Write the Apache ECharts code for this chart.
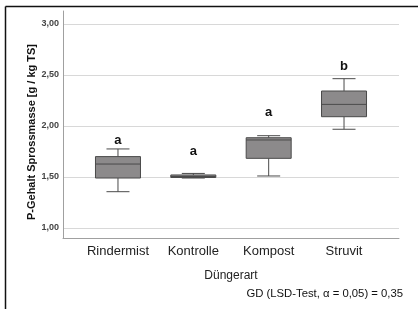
<!DOCTYPE html>
<html>
<head>
<meta charset="utf-8">
<script src="https://cdn.jsdelivr.net/npm/echarts@6/dist/echarts.min.js"></script>
<style>
  html, body { margin: 0; padding: 0; background: #fff; }
  #chart { width: 418px; height: 309px; }
</style>
</head>
<body>
<div id="chart"></div>
<script>
// Düngerart-Kategorien und Boxplot-Kennwerte (min, Q1, Median, Q3, max)
const categories = ['Rindermist', 'Kontrolle', 'Kompost', 'Struvit'];
const minVals = [1.356, 1.49, 1.51, 1.968];
const q1Vals = [1.49, 1.495, 1.683, 2.091];
const medianVals = [1.627, 1.505, 1.863, 2.212];
const q3Vals = [1.70, 1.52, 1.885, 2.343];
const maxVals = [1.775, 1.535, 1.905, 2.464];
// Signifikanzbuchstaben und ihre Höhe (in g / kg TS)
const letters = ['a', 'a', 'a', 'b'];
const letterY = [1.863, 1.755, 2.13, 2.58];
const yTicks = [1.0, 1.5, 2.0, 2.5, 3.0];

const boxData = categories.map((c, i) => [i, minVals[i], q1Vals[i], medianVals[i], q3Vals[i], maxVals[i], letterY[i]]);

const chart = echarts.init(document.getElementById('chart'));

function renderBox(params, api) {
  const i = api.value(0);
  const pMin = api.coord([i, api.value(1)]);
  const pQ1 = api.coord([i, api.value(2)]);
  const pMed = api.coord([i, api.value(3)]);
  const pQ3 = api.coord([i, api.value(4)]);
  const pMax = api.coord([i, api.value(5)]);
  const pLet = api.coord([i, api.value(6)]);
  const x = pMed[0];
  const hw = 22.5;
  const cw = 11.5;
  const lineStyle = { stroke: '#4a4a4a', lineWidth: 1 };
  return {
    type: 'group',
    children: [
      { type: 'line', shape: { x1: x, y1: pMax[1], x2: x, y2: pQ3[1] }, style: lineStyle },
      { type: 'line', shape: { x1: x, y1: pQ1[1], x2: x, y2: pMin[1] }, style: lineStyle },
      { type: 'line', shape: { x1: x - cw, y1: pMax[1], x2: x + cw, y2: pMax[1] }, style: lineStyle },
      { type: 'line', shape: { x1: x - cw, y1: pMin[1], x2: x + cw, y2: pMin[1] }, style: lineStyle },
      {
        type: 'rect',
        shape: { x: x - hw, y: pQ3[1], width: hw * 2, height: Math.max(pQ1[1] - pQ3[1], 1) },
        style: { fill: '#8c8a8b', stroke: '#4a4a4a', lineWidth: 1 }
      },
      { type: 'line', shape: { x1: x - hw, y1: pMed[1], x2: x + hw, y2: pMed[1] }, style: lineStyle },
      {
        type: 'text',
        style: {
          x: x, y: pLet[1], text: letters[i],
          align: 'center', verticalAlign: 'middle',
          font: 'bold 13px "Liberation Sans", Arial, sans-serif',
          fill: '#111'
        }
      }
    ]
  };
}

chart.setOption({
  animation: false,
  backgroundColor: '#fff',
  graphic: [
    { type: 'line', shape: { x1: 5.5, y1: 6.5, x2: 418, y2: 6.5 }, style: { stroke: '#111', lineWidth: 1.5 } },
    { type: 'line', shape: { x1: 5.5, y1: 6.5, x2: 5.5, y2: 309 }, style: { stroke: '#111', lineWidth: 1.5 } },
    {
      type: 'text',
      x: 32, y: 132,
      rotation: Math.PI / 2,
      style: {
        text: 'P-Gehalt Sprossmasse [g / kg TS]',
        align: 'center', verticalAlign: 'middle',
        font: 'bold 11px "Liberation Sans", Arial, sans-serif',
        fill: '#111'
      }
    },
    {
      type: 'text',
      x: 403, y: 294,
      style: {
        text: 'GD (LSD-Test, α = 0,05) = 0,35',
        align: 'right', verticalAlign: 'middle',
        font: '11.3px "Liberation Sans", Arial, sans-serif',
        fill: '#111'
      }
    }
  ],
  grid: [
    // Gitterlinien und Tick-Beschriftungen
    { left: 63, right: 19, top: 24, bottom: 81 },
    // Achsenrahmen
    { left: 63, right: 19, top: 11, bottom: 71 },
    // Boxen
    { left: 80.3, right: 36.3, top: 24, bottom: 81 }
  ],
  xAxis: [
    { gridIndex: 0, type: 'value', show: false },
    {
      gridIndex: 1, type: 'value', min: 0, max: 1,
      axisLine: { show: true, lineStyle: { color: '#a0a0a0', width: 1 } },
      axisTick: { show: false }, axisLabel: { show: false }, splitLine: { show: false },
      name: 'Düngerart', nameLocation: 'middle', nameGap: 32,
      nameTextStyle: { fontFamily: '"Liberation Sans", Arial, sans-serif', fontSize: 12, color: '#222' }
    },
    {
      gridIndex: 2, type: 'category', data: categories, boundaryGap: true,
      axisLine: { show: false }, axisTick: { show: false },
      axisLabel: { interval: 0, margin: 17, fontFamily: '"Liberation Sans", Arial, sans-serif', fontSize: 13, color: '#222' }
    }
  ],
  yAxis: [
    {
      gridIndex: 0, type: 'value', min: 1, max: 3, interval: 0.5,
      axisLine: { show: false }, axisTick: { show: false },
      axisLabel: {
        margin: 4,
        formatter: v => yTicks.includes(v) ? v.toFixed(2).replace('.', ',') : '',
        fontFamily: '"Liberation Sans", Arial, sans-serif', fontSize: 9, fontWeight: 'bold', color: '#444'
      },
      splitLine: { show: true, lineStyle: { color: '#d8d8d8', width: 1 } }
    },
    {
      gridIndex: 1, type: 'value', min: 0, max: 1,
      axisLine: { show: true, lineStyle: { color: '#a0a0a0', width: 1 } },
      axisTick: { show: false }, axisLabel: { show: false }, splitLine: { show: false }
    },
    { gridIndex: 2, type: 'value', min: 1, max: 3, show: false }
  ],
  series: [
    {
      type: 'custom',
      xAxisIndex: 2, yAxisIndex: 2,
      renderItem: renderBox,
      data: boxData,
      encode: { x: 0, y: [1, 2, 3, 4, 5, 6] }
    }
  ]
});
</script>
</body>
</html>
